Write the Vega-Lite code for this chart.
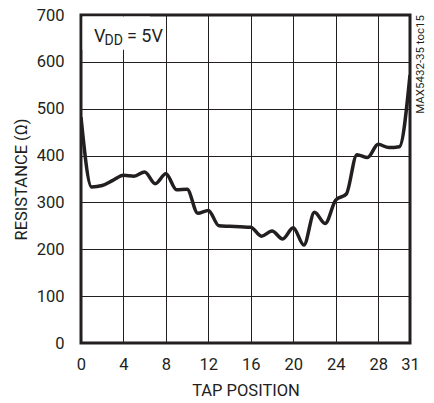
{
  "$schema": "https://vega.github.io/schema/vega-lite/v6.json",
  "width": 329,
  "height": 328,
  "autosize": {"type": "none"},
  "padding": {"left": 81, "top": 15, "right": 24, "bottom": 60},
  "background": "white",
  "config": {
    "font": "Roboto",
    "view": {"stroke": "#231f20", "strokeWidth": 3},
    "axis": {
      "domain": false,
      "ticks": false,
      "tickSize": 0,
      "grid": true,
      "gridColor": "#231f20",
      "gridWidth": 1,
      "gridOpacity": 1,
      "labelFontSize": 16.5,
      "labelColor": "#231f20",
      "titleFontSize": 16.5,
      "titleFontWeight": "normal",
      "titleColor": "#231f20"
    }
  },
  "layer": [
    {
      "data": {
        "values": [
          {"tap": 0, "r": 482}, {"tap": 1, "r": 333}, {"tap": 2, "r": 336}, {"tap": 3, "r": 347},
          {"tap": 4, "r": 358}, {"tap": 5, "r": 356}, {"tap": 6, "r": 365}, {"tap": 7, "r": 340},
          {"tap": 8, "r": 361}, {"tap": 9, "r": 327}, {"tap": 10, "r": 328}, {"tap": 11, "r": 277},
          {"tap": 12, "r": 283}, {"tap": 13, "r": 250}, {"tap": 14, "r": 249}, {"tap": 15, "r": 248},
          {"tap": 16, "r": 247}, {"tap": 17, "r": 228}, {"tap": 18, "r": 239}, {"tap": 19, "r": 222},
          {"tap": 20, "r": 246}, {"tap": 21, "r": 209}, {"tap": 22, "r": 279}, {"tap": 23, "r": 255},
          {"tap": 24, "r": 305}, {"tap": 25, "r": 318}, {"tap": 26, "r": 402}, {"tap": 27, "r": 396},
          {"tap": 28, "r": 424}, {"tap": 29, "r": 417}, {"tap": 30, "r": 419}, {"tap": 31, "r": 572}
        ]
      },
      "mark": {"type": "line", "interpolate": "monotone", "stroke": "#231f20", "strokeWidth": 3.5, "clip": true},
      "encoding": {
        "x": {
          "field": "tap", "type": "quantitative",
          "scale": {"domain": [0, 31], "nice": false},
          "axis": {"values": [0, 4, 8, 12, 16, 20, 24, 28, 31], "title": "TAP POSITION", "labelPadding": 13, "titlePadding": 10, "labelFlush": false}
        },
        "y": {
          "field": "r", "type": "quantitative",
          "scale": {"domain": [0, 700], "nice": false},
          "axis": {"values": [0, 100, 200, 300, 400, 500, 600, 700], "title": "RESISTANCE (Ω)", "labelPadding": 17, "titlePadding": 7, "labelFlush": false}
        }
      }
    },
    {
      "data": {"values": [{"x0": 0.15, "x1": 6.5, "y0": 626, "y1": 697}]},
      "mark": {"type": "rect", "fill": "white"},
      "encoding": {
        "x": {"field": "x0", "type": "quantitative"},
        "x2": {"field": "x1"},
        "y": {"field": "y0", "type": "quantitative"},
        "y2": {"field": "y1"}
      }
    },
    {
      "data": {"values": [{"x": 1.22, "y": 642}]},
      "encoding": {
        "x": {"field": "x", "type": "quantitative"},
        "y": {"field": "y", "type": "quantitative"}
      },
      "layer": [
        {"mark": {"type": "text", "text": "V", "align": "left", "baseline": "alphabetic", "fontSize": 18, "color": "#231f20"}},
        {"mark": {"type": "text", "text": "DD", "align": "left", "baseline": "alphabetic", "fontSize": 14, "dx": 10.5, "dy": 3, "color": "#231f20"}},
        {"mark": {"type": "text", "text": "= 5V", "align": "left", "baseline": "alphabetic", "fontSize": 18, "dx": 33, "color": "#231f20"}}
      ]
    },
    {
      "data": {"values": [{"x": 31, "y": 700, "note": "MAX5432-35 toc15"}]},
      "mark": {"type": "text", "angle": 270, "align": "right", "baseline": "middle", "fontSize": 11.5, "dy": 11, "color": "#231f20", "clip": false},
      "encoding": {
        "x": {"field": "x", "type": "quantitative"},
        "y": {"field": "y", "type": "quantitative"},
        "text": {"field": "note"}
      }
    }
  ]
}
